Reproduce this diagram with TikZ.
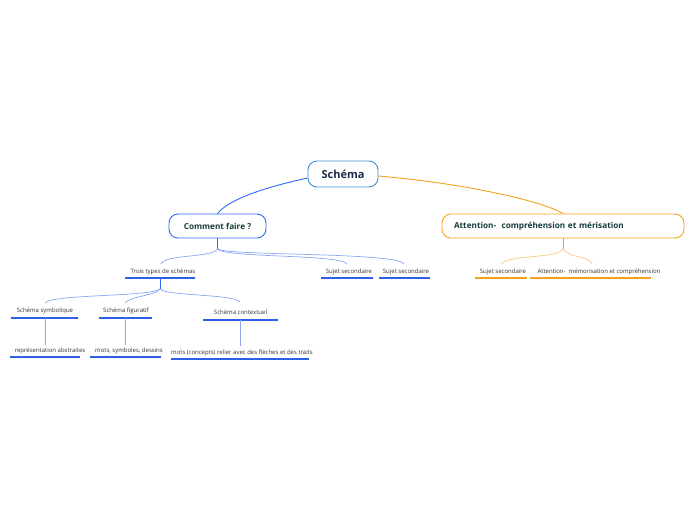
\documentclass[tikz,border=0pt]{standalone}
\usepackage{fontspec}
\setmainfont{Open Sans}
\definecolor{mblue}{HTML}{2F6BF2}
\definecolor{lblue}{HTML}{8AA6F5}
\definecolor{ublue}{HTML}{2E5FEA}
\definecolor{sblue}{HTML}{3A8FD8}
\definecolor{morange}{HTML}{F5A11C}
\definecolor{lorange}{HTML}{FBC983}
\definecolor{navy}{HTML}{1C2A4A}
\definecolor{dgreen}{HTML}{143C3A}
\definecolor{gtext}{HTML}{333333}
\tikzset{
  x=1pt,y=-1pt,
  rootbox/.style={draw=sblue,line width=0.9pt,rounded corners=9pt,fill=white,
    minimum width=70pt,minimum height=26pt,font=\fontsize{11}{13}\selectfont\bfseries,text=navy},
  mainbox/.style={draw=#1,line width=0.9pt,rounded corners=9pt,fill=white,
    minimum height=24pt,font=\fontsize{8.2}{10}\selectfont\bfseries,text=dgreen},
  subtxt/.style={inner sep=0pt,font=\fontsize{6}{7.5}\selectfont,text=gtext},
  uline/.style={line width=1.4pt,ublue},
  oline/.style={line width=1.4pt,morange},
  bconn/.style={lblue,line width=0.7pt},
  bmain/.style={mblue,line width=0.9pt},
  oconn/.style={lorange,line width=0.7pt},
  omain/.style={morange,line width=0.9pt},
}
\begin{document}
\begin{tikzpicture}
\useasboundingbox (0,0) rectangle (696,520);
% main nodes
\node[rootbox] (root) at (343,174) {Schéma};
\node[mainbox=mblue,minimum width=97pt] (cf) at (217.5,226) {Comment faire ?};
\node[mainbox=morange,minimum width=242pt,text width=218pt,align=left] (att) at (563,226) {Attention-\ \ compréhension et mérisation};
% root connectors
\draw[bmain] (root.west) ++(0,4) coordinate (rl) .. controls (262,188) and (228,200) .. (cf.north);
\draw[omain] (root.east) ++(0,2) coordinate (rr) .. controls (460,183) and (540,200) .. (att.north);
% level 2 texts
\node[subtxt] (tt) at (163,271.5) {Trois types de schémas};
\node[subtxt] (s1) at (349,271.5) {Sujet secondaire};
\node[subtxt] (s2) at (406,271.5) {Sujet secondaire};
\node[subtxt] (s3) at (503,271.5) {Sujet secondaire};
\node[subtxt] (am) at (599,271.5) {Attention-\ \ mémorisation et compréhension};
% underline anchors
\coordinate (ttl) at (125,278); \coordinate (ttr) at (195,278);
\coordinate (s1l) at (321,278); \coordinate (s1r) at (373,278);
\coordinate (s2l) at (379,278); \coordinate (s2r) at (430,278);
\coordinate (s3l) at (475,278); \coordinate (s3r) at (527,278);
\coordinate (aml) at (530,278); \coordinate (amr) at (651,278);
\draw[uline] (ttl) -- (ttr);
\draw[uline] (s1l) -- (s1r);
\draw[uline] (s2l) -- (s2r);
\draw[oline] (s3l) -- (s3r);
\draw[oline] (aml) -- (amr);
% blue junction from Comment faire
\coordinate (cfj) at (217.5,249);
\draw[bmain] (cf.south) -- (cfj);
\draw[bconn] (cfj) .. controls (212,258) and (165,254) .. (161,264);
\draw[bconn] (cfj) .. controls (225,258) and (340,254) .. (347,264);
\draw[bconn] (cfj) .. controls (228,256) and (398,252) .. (404,264);
% orange junction
\coordinate (attj) at (563,249);
\draw[omain] (att.south) -- (attj);
\draw[oconn] (attj) .. controls (558,259) and (510,254) .. (501,264);
\draw[oconn] (attj) .. controls (568,258) and (590,256) .. (592,264);
% level 3
\node[subtxt] (sy) at (45,310.5) {Schéma symbolique};
\node[subtxt] (fi) at (126,310.5) {Schéma figuratif};
\node[subtxt] (co) at (240.5,312.5) {Schéma contextuel};
\coordinate (syl) at (11,318); \coordinate (syr) at (78,318);
\coordinate (fil) at (99,318); \coordinate (fir) at (152,318);
\coordinate (col) at (203,320); \coordinate (cor) at (278,320);
\draw[uline] (syl) -- (syr);
\draw[uline] (fil) -- (fir);
\draw[uline] (col) -- (cor);
\coordinate (ttb) at (160,278);
\coordinate (ttj) at (160,289);
\draw[bmain] (ttb) -- (ttj);
\draw[bconn] (ttj) .. controls (150,297) and (52,294) .. (45,303);
\draw[bconn] (ttj) .. controls (155,296) and (130,296) .. (125,303);
\draw[bconn] (ttj) .. controls (165,296) and (235,294) .. (240,302);
% leaves
\node[subtxt] (ra) at (50,350.5) {représentation abstraites};
\node[subtxt] (ms) at (129,350.5) {mots, symboles, dessins};
\node[subtxt] (mc) at (242,352.5) {mots (concepts) relier avec des flèches et des traits};
\coordinate (ral) at (10,357); \coordinate (rar) at (80,357);
\coordinate (msl) at (90,357); \coordinate (msr) at (161,357);
\coordinate (mcl) at (171,359); \coordinate (mcr) at (309,359);
\draw[uline] (ral) -- (rar);
\draw[uline] (msl) -- (msr);
\draw[uline] (mcl) -- (mcr);
\coordinate (syb) at (45,318); \coordinate (fib) at (125,318); \coordinate (cob) at (240.5,320);
\draw[bconn] (syb) -- (45,345);
\draw[bconn] (fib) -- (125,345);
\draw[bconn] (cob) -- (240.5,346);
\end{tikzpicture}
\end{document}
